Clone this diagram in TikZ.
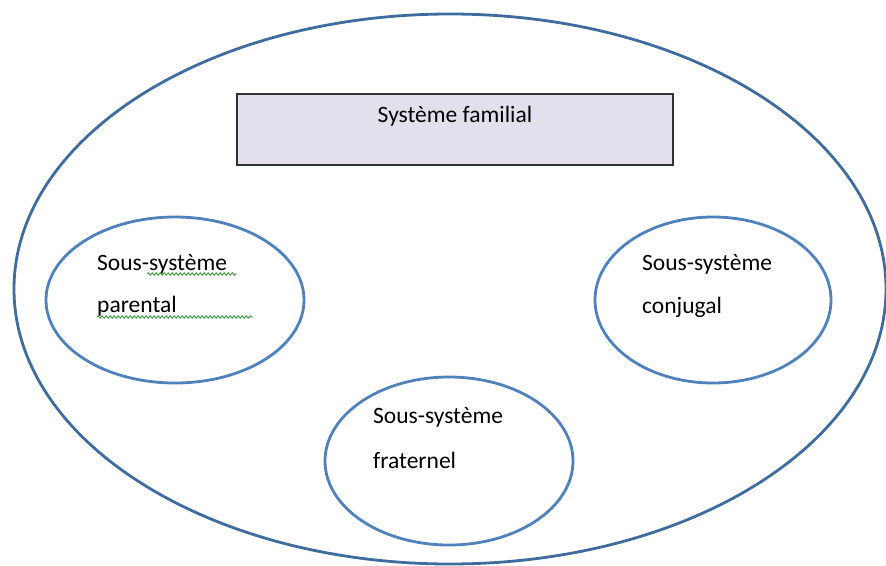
\documentclass[tikz,border=0pt]{standalone}
\usepackage{fontspec}
\setmainfont{Carlito}
\usetikzlibrary{shapes.geometric,decorations.pathmorphing}
\definecolor{outerblue}{HTML}{3E6C9E}
\definecolor{innerblue}{HTML}{4F81BD}
\definecolor{boxfill}{HTML}{E4DFEC}
\definecolor{boxline}{HTML}{333333}
\definecolor{spellgreen}{HTML}{3CA03C}
\tikzset{
  outerell/.style={ellipse,draw=outerblue,line width=2.8pt,inner sep=0pt},
  innerell/.style={ellipse,draw=innerblue,line width=2.8pt,inner sep=0pt},
  titlebox/.style={rectangle,draw=boxline,fill=boxfill,line width=2.2pt,inner sep=0pt},
  lbl/.style={anchor=base west,inner sep=0pt,font=\fontsize{23.5}{28}\selectfont,text=black},
  spell/.style={draw=spellgreen,line width=0.9pt,decorate,decoration={snake,amplitude=1.2pt,segment length=4pt}}
}
\begin{document}
\begin{tikzpicture}[x=1pt,y=-1pt]
\useasboundingbox (0,0) rectangle (886,565);
% outer system
\node[outerell,minimum width=872pt,minimum height=550pt] (outer) at (450,289) {};
% title box
\node[titlebox,minimum width=436pt,minimum height=71pt] (box) at (455,129.5) {};
\node[lbl,anchor=base] (title) at (455,122) {Système familial};
% sub-systems
\node[innerell,minimum width=258pt,minimum height=166pt] (parent) at (175,300) {};
\node[innerell,minimum width=236pt,minimum height=166pt] (conj) at (713,300) {};
\node[innerell,minimum width=248pt,minimum height=168pt] (frat) at (449,461) {};
% labels
\node[lbl] (p1) at (97,270) {Sous-système};
\node[lbl] (p2) at (97,312) {parental};
\node[lbl] (c1) at (642,270) {Sous-système};
\node[lbl] (c2) at (642,313) {conjugal};
\node[lbl] (f1) at (373,423) {Sous-système};
\node[lbl] (f2) at (373,468) {fraternel};
% spell-check underlines
\coordinate (s1a) at (147,274);
\coordinate (s1b) at (237,274);
\coordinate (s2a) at (97,317);
\coordinate (s2b) at (253,317);
\draw[spell] (s1a) -- (s1b);
\draw[spell] (s2a) -- (s2b);
\end{tikzpicture}
\end{document}
